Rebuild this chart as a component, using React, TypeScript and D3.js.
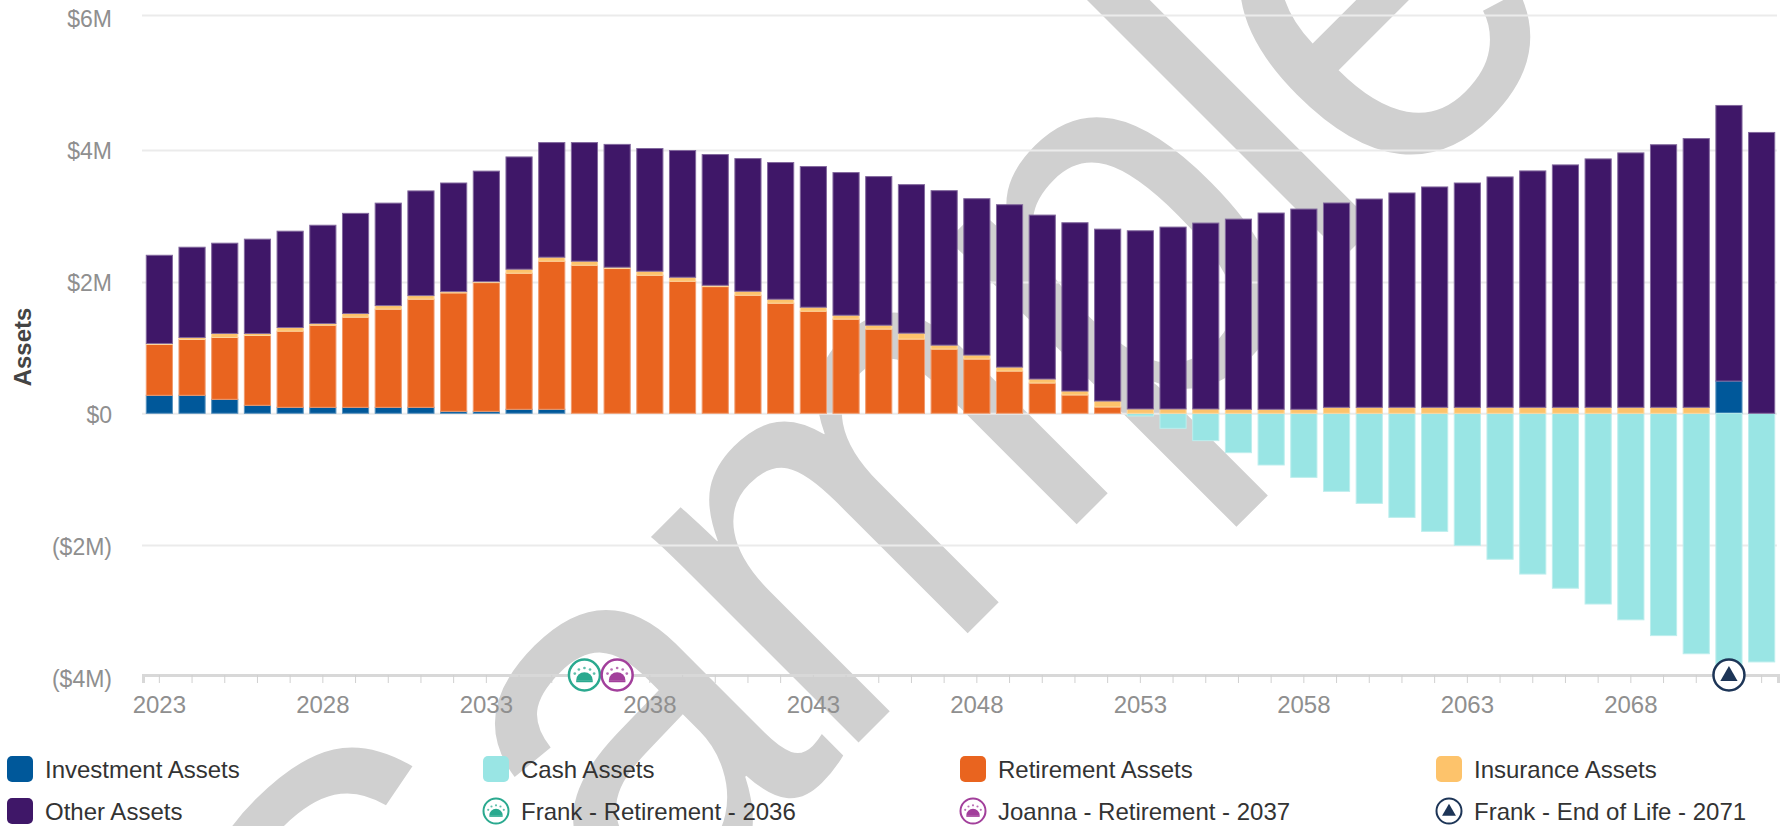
import { useEffect, useRef } from "react";
import * as d3 from "d3";

const width = 1784;
const height = 826;

// values in $M
const years = d3.range(2023, 2073);
const investment = [0.274, 0.274, 0.213, 0.122, 0.091, 0.091, 0.091, 0.091, 0.091, 0.03, 0.03, 0.061, 0.061, 0,
  0, 0, 0, 0, 0, 0, 0, 0, 0, 0, 0, 0, 0, 0, 0, 0, 0, 0, 0,
  0, 0, 0, 0, 0, 0, 0, 0, 0, 0, 0, 0, 0, 0, 0, 0.491, 0];
const cash = [0, 0, 0, 0, 0, 0, 0, 0, 0, 0, 0, 0, 0, 0,
  0, 0, 0, 0, 0, 0, 0, 0, 0, 0, 0, 0, 0, 0, 0, 0,
  -0.041, -0.228, -0.415, -0.598, -0.785, -0.973, -1.185, -1.368, -1.581, -1.793, -2.006, -2.219, -2.447, -2.665, -2.908, -3.151, -3.394, -3.673, -3.85, -3.799];
const retirement = [0.775, 0.851, 0.942, 1.063, 1.16, 1.251, 1.373, 1.495, 1.647, 1.804, 1.961, 2.072, 2.254, 2.254,
  2.204, 2.102, 2.011, 1.93, 1.798, 1.677, 1.555, 1.434, 1.282, 1.13, 0.978, 0.826, 0.643, 0.461, 0.279, 0.096,
  0, 0, 0, 0, 0, 0, 0, 0, 0, 0, 0, 0, 0, 0, 0, 0, 0, 0, 0, 0];
const insurance = [0.015, 0.03, 0.061, 0.031, 0.056, 0.026, 0.056, 0.055, 0.055, 0.02, 0.015, 0.061, 0.061, 0.061,
  0.02, 0.061, 0.061, 0.02, 0.061, 0.061, 0.061, 0.06, 0.06, 0.091, 0.06, 0.061, 0.061, 0.061, 0.06, 0.091, 0.066, 0.066, 0.066,
  0.061, 0.061, 0.061, 0.091, 0.091, 0.091, 0.091, 0.091, 0.091, 0.091, 0.091, 0.091, 0.091, 0.091, 0.091, 0, 0];
const other = [1.341, 1.372, 1.372, 1.433, 1.463, 1.492, 1.52, 1.554, 1.587, 1.646, 1.674, 1.701, 1.734, 1.795,
  1.859, 1.859, 1.92, 1.981, 2.011, 2.072, 2.133, 2.164, 2.255, 2.254, 2.346, 2.375, 2.467, 2.492, 2.559, 2.614, 2.71, 2.766, 2.827,
  2.892, 2.984, 3.044, 3.106, 3.166, 3.258, 3.349, 3.409, 3.501, 3.592, 3.683, 3.774, 3.865, 3.987, 4.078, 4.169, 4.26];

const seriesNames = ["Investment Assets", "Cash Assets", "Retirement Assets", "Insurance Assets", "Other Assets"];
const seriesValues = [investment, cash, retirement, insurance, other];
const seriesColors = ["#00589a", "#99e5e4", "#e9641f", "#fdc36b", "#3f1768"];

const yTicks = [-4, -2, 0, 2, 4, 6];
const yPixels = [675, 545, 413.3, 282, 150, 15];

const events = [
  { label: "Frank - Retirement - 2036", year: 2036, color: "#2aa98f", kind: "sun" },
  { label: "Joanna - Retirement - 2037", year: 2037, color: "#a23f9b", kind: "sun" },
  { label: "Frank - End of Life - 2071", year: 2071, color: "#1d3557", kind: "end" },
];

const legendCols = [7, 483, 960, 1436];
const legendRows = [769, 811];

const font = "'Liberation Sans', Arial, sans-serif";

const formatMoney = (d) => {
  if (d === 0) return "$0";
  return d < 0 ? `($${-d}M)` : `$${d}M`;
};

function drawEvent(g, ev, r) {
  g.append("circle").attr("r", r).attr("fill", "#fff").attr("stroke", ev.color).attr("stroke-width", r * 0.16);
  const k = r / 15;
  if (ev.kind === "sun") {
    const dome = d3.arc()({ innerRadius: 0, outerRadius: 8 * k, startAngle: -Math.PI / 2, endAngle: Math.PI / 2 });
    g.append("path").attr("d", dome).attr("transform", `translate(0,${5 * k}) scale(1,0.95)`).attr("fill", ev.color);
    g.append("rect").attr("x", -8 * k).attr("y", 5 * k).attr("width", 16 * k).attr("height", 2 * k).attr("fill", ev.color);
    [-60, -30, 0, 30, 60].forEach((a) => {
      const t = ((a - 90) * Math.PI) / 180;
      g.append("circle")
        .attr("cx", Math.cos(t) * 10.8 * k)
        .attr("cy", 4 * k + Math.sin(t) * 10.8 * k)
        .attr("r", 1.3 * k)
        .attr("fill", ev.color)
        .attr("opacity", 0.75);
    });
  } else {
    const tri = d3.symbol().type(d3.symbolTriangle).size(120 * k * k)();
    g.append("path").attr("d", tri).attr("transform", `translate(0,${1 * k})`).attr("fill", ev.color);
  }
}

export default function App() {
  const svgRef = useRef(null);

  useEffect(() => {
    const svg = d3.select(svgRef.current);
    svg.selectAll("*").remove();

    const x = d3.scaleBand().domain(years).range([143, 1778]).paddingInner(0.2).paddingOuter(0.1);
    const y = d3.scaleLinear().domain(yTicks).range(yPixels);
    // tick labels are spaced evenly in the picture, the grid is a little off
    const yLabel = d3.scaleLinear().domain([-4, 6]).range([678, 18]);

    // watermark sits under everything
    svg.append("text")
      .text("Sample")
      .attr("transform", "translate(397,1204) rotate(-45) scale(1,1.095)")
      .attr("dx", "15 0 -15 0 -14 -18")
      .attr("font-family", font)
      .attr("font-size", 505)
      .attr("fill", "#d0d0d0");

    // value axis with full-width grid
    const yAxis = svg.append("g")
      .attr("transform", "translate(142,0)")
      .call(d3.axisLeft(y).tickValues(yTicks).tickSize(-1635).tickPadding(30).tickFormat(formatMoney));
    yAxis.select(".domain").remove();
    yAxis.selectAll("line").attr("stroke", "#ebebeb").attr("stroke-width", 2);
    yAxis.selectAll("text")
      .attr("font-family", font)
      .attr("font-size", 23)
      .attr("fill", "#8f8f8f")
      .attr("y", (d) => yLabel(d) - y(d))
      .attr("dy", "0.35em");

    // year axis along the bottom of the plot
    const xAxis = svg.append("g")
      .attr("transform", `translate(0,${y(-4)})`)
      .call(d3.axisBottom(x).tickSize(8).tickPadding(13)
        .tickFormat((d) => ((d - 2023) % 5 === 0 ? d : "")));
    xAxis.select(".domain").attr("stroke", "#d8d8d8").attr("stroke-width", 3);
    xAxis.selectAll("line").attr("stroke", "#d0d0d0");
    xAxis.selectAll("text").attr("font-family", font).attr("font-size", 24).attr("fill", "#8f8f8f");

    const rows = years.map((year, i) => {
      const row = { year };
      seriesNames.forEach((name, s) => { row[name] = seriesValues[s][i]; });
      return row;
    });
    const stacked = d3.stack().keys(seriesNames).offset(d3.stackOffsetDiverging)(rows);

    stacked.forEach((layer, s) => {
      const fill = seriesColors[s];
      svg.append("g")
        .attr("fill", fill)
        .attr("stroke", d3.interpolateRgb(fill, "#fff")(0.35))
        .selectAll("rect")
        .data(layer.filter((d) => d[1] !== d[0]))
        .join("rect")
        .attr("x", (d) => x(d.data.year))
        .attr("width", x.bandwidth())
        .attr("y", (d) => y(Math.max(d[0], d[1])))
        .attr("height", (d) => Math.abs(y(d[0]) - y(d[1])));
    });

    svg.append("text")
      .text("Assets")
      .attr("transform", "translate(31,347) rotate(-90)")
      .attr("text-anchor", "middle")
      .attr("font-family", font)
      .attr("font-weight", "bold")
      .attr("font-size", 24)
      .attr("fill", "#444");

    events.forEach((ev) => {
      const g = svg.append("g").attr("transform", `translate(${x(ev.year) + x.bandwidth() / 2},${y(-4)})`);
      drawEvent(g, ev, 15.5);
    });

    // legend
    const legendItem = (col, row, label) => {
      return svg.append("text")
        .text(label)
        .attr("x", legendCols[col] + 38)
        .attr("y", legendRows[row] + 8.5)
        .attr("font-family", font)
        .attr("font-size", 24)
        .attr("fill", "#333");
    };
    seriesNames.forEach((name, s) => {
      const col = s % 4;
      const row = s < 4 ? 0 : 1;
      svg.append("rect")
        .attr("x", legendCols[col])
        .attr("y", legendRows[row] - 13)
        .attr("width", 26)
        .attr("height", 26)
        .attr("rx", 5)
        .attr("fill", seriesColors[s]);
      legendItem(col, row, name);
    });
    events.forEach((ev, i) => {
      const g = svg.append("g").attr("transform", `translate(${legendCols[i + 1] + 13},${legendRows[1]})`);
      drawEvent(g, ev, 12.5);
      legendItem(i + 1, 1, ev.label);
    });
  }, []);

  return (
    <svg
      ref={svgRef}
      width={width}
      height={height}
      viewBox={`0 0 ${width} ${height}`}
      style={{ position: "absolute", left: 0, top: 0, background: "#fff" }}
    />
  );
}
